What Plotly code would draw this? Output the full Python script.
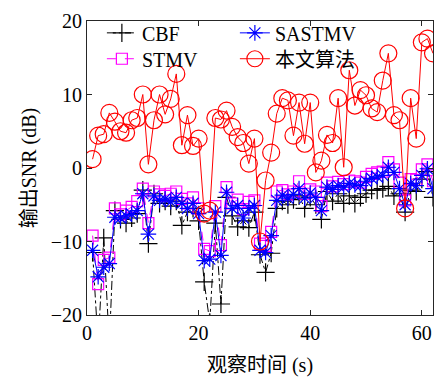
import plotly.graph_objects as go

# Observation time (s)
t = list(range(1, 63))

cbf = [-11.5, -24, -9.5, -24, -5.8, -7.0, -7.5, -6.8, -6.2, -3.0,
       -10.3, -3.5, -4.8, -4.5, -5.2, -4.5, -7.8, -6.0, -5.5, -7.2,
       -15.5, -21, -7.5, -18.5, -4.0, -6.5, -8.0, -7.2, -8.1, -6.0,
       -11.8, -14.2, -11.6, -5.5, -4.5, -5.0, -4.3, -3.8, -5.5, -4.0,
       -5.0, -7.0, -3.2, -4.5, -3.5, -4.8, -3.8, -4.8, -4.0, -3.5,
       -3.0, -3.0, -2.8, -2.5, -3.8, -3.5, -6.0, -3.0, -3.2, -1.5,
       -0.5, -4.0]

sastmv = [-11.2, -14.8, -13.5, -13.0, -6.7, -6.8, -6.5, -6.3, -5.8, -3.5,
          -9.0, -3.8, -4.4, -4.2, -4.6, -4.0, -4.8, -5.5, -4.8, -6.2,
          -12.6, -12.4, -6.0, -11.9, -3.3, -5.5, -5.1, -6.8, -5.5, -5.1,
          -11.2, -11.5, -9.2, -4.4, -3.7, -4.1, -3.6, -2.8, -4.1, -3.4,
          -4.0, -5.8, -2.6, -2.9, -2.4, -2.6, -2.1, -2.3, -2.4, -1.8,
          -1.4, -1.2, -1.0, 0.1, -0.6, -2.8, -5.0, -2.1, -2.4, -1.0,
          -0.1, -2.8]

stmv = [-9.2, -15.8, -12.5, -12.2, -5.5, -6.3, -5.8, -5.3, -4.5, -2.8,
        -7.5, -3.2, -3.6, -3.8, -3.5, -3.2, -4.2, -4.8, -4.0, -5.5,
        -11.0, -11.3, -5.2, -10.5, -2.6, -4.8, -4.3, -5.6, -4.6, -4.4,
        -10.3, -10.6, -8.7, -3.2, -3.0, -3.6, -3.2, -1.8, -3.5, -2.9,
        -3.2, -5.2, -2.0, -2.5, -1.9, -2.2, -1.7, -1.8, -2.0, -1.2,
        -0.8, -0.6, -0.5, 0.8, -0.2, -2.0, -4.4, -1.5, -1.6, -0.2,
        0.5, -1.8]

proposed = [1.2, 4.4, 4.6, 7.5, 6.3, 5.0, 4.8, 6.5, 6.8, 10.0,
            0.5, 6.5, 10.0, 7.3, 9.4, 12.8, 3.1, 7.2, 3.0, 4.0,
            -6.2, -5.8, 6.8, 6.6, 7.8, 5.6, 4.2, 3.4, 0.6, 4.0,
            -10.0, -1.7, 2.1, 7.4, 9.5, 9.2, 4.4, 8.9, 3.3, 8.9,
            -0.6, 1.0, 4.5, 3.4, 9.5, 0.1, 13.3, 8.5, 10.6, 9.9,
            8.1, 7.6, 11.9, 15.6, 7.2, 6.5, -5.5, 9.5, 4.0, 17.1,
            17.6, 15.6]

x_ticks = [0, 20, 40, 60]
y_ticks = [-20, -10, 0, 10, 20]

FONT = "'Liberation Serif', 'Noto Sans CJK SC', serif"

fig = go.Figure()

# two legend rows, each its own legend box
fig.add_trace(go.Scatter(
    x=t, y=cbf, name="CBF", mode="lines+markers", legend="legend", legendrank=1,
    line=dict(color="black", width=1, dash="dashdot"),
    marker=dict(symbol="cross-thin-open", size=13,
                line=dict(color="black", width=1.2))))

fig.add_trace(go.Scatter(
    x=t, y=stmv, name="STMV", mode="lines+markers", legend="legend2", legendrank=1,
    line=dict(color="#ff00ff", width=1, dash="dash"),
    marker=dict(symbol="square-open", size=11,
                line=dict(color="#ff00ff", width=1.2))))

fig.add_trace(go.Scatter(
    x=t, y=sastmv, name="SASTMV", mode="lines+markers", legend="legend", legendrank=2,
    line=dict(color="#0000ff", width=1),
    marker=dict(symbol="asterisk-open", size=13,
                line=dict(color="#0000ff", width=1.2))))

fig.add_trace(go.Scatter(
    x=t, y=proposed, name="本文算法", mode="lines+markers", legend="legend2", legendrank=2,
    line=dict(color="#ff0000", width=1),
    marker=dict(symbol="circle-open", size=17,
                line=dict(color="#ff0000", width=1.2))))

axis_common = dict(
    showline=True, linecolor="#262626", linewidth=1, mirror="ticks",
    ticks="inside", ticklen=5, tickcolor="#262626",
    showgrid=False, zeroline=False,
    tickfont=dict(family=FONT, size=20, color="black"),
)

fig.update_xaxes(range=[0, 62], tickvals=x_ticks,
                 title=dict(text="观察时间 (s)", standoff=14,
                            font=dict(family=FONT, size=20, color="black")),
                 **axis_common)
fig.update_yaxes(range=[-20, 20], tickvals=y_ticks,
                 title=dict(text="输出SNR (dB)", standoff=8,
                            font=dict(family=FONT, size=20, color="black")),
                 **axis_common)

legend_common = dict(orientation="h", xanchor="left", yanchor="top",
                     entrywidth=88, entrywidthmode="pixels",
                     bgcolor="rgba(0,0,0,0)", traceorder="normal",
                     font=dict(family=FONT, size=20, color="black"))

fig.update_layout(
    width=436, height=383,
    margin=dict(l=87, r=3, t=21, b=68),
    plot_bgcolor="white", paper_bgcolor="white",
    font=dict(family=FONT, size=20, color="black"),
    legend=dict(x=0.043, y=1.026, **legend_common),
    legend2=dict(x=0.043, y=0.938, **legend_common),
)

fig.write_html("out.html")
